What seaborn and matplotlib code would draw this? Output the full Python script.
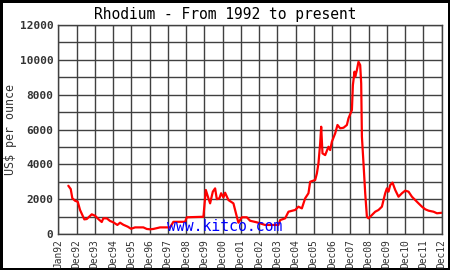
import matplotlib
matplotlib.use("Agg")
import matplotlib.pyplot as plt
import seaborn as sns
import pandas as pd

# --- data (x: position in years from Jan92, y: US$ per ounce) ---
t_years = [0.548, 0.680, 0.768, 0.916, 1.064, 1.190, 1.425, 1.557, 1.831, 2.012,
           2.193, 2.379, 2.467, 2.654, 2.834, 3.015, 3.235, 3.383, 3.564, 3.805,
           3.986, 4.205, 4.660, 4.846, 5.027, 5.208, 5.576, 6.124, 6.305, 6.946,
           7.039, 7.950, 8.081, 8.224, 8.317, 8.465, 8.591, 8.684, 8.827, 8.920,
           9.046, 9.139, 9.320, 9.594, 9.781, 9.868, 10.055, 10.329, 10.510, 10.877,
           11.058, 11.332, 12.061, 12.155, 12.429, 12.610, 12.977, 13.158, 13.344, 13.525,
           13.706, 13.799, 14.073, 14.167, 14.254, 14.348, 14.403, 14.474, 14.622, 14.803,
           14.896, 14.989, 15.170, 15.296, 15.444, 15.625, 15.811, 15.899, 16.086, 16.140,
           16.228, 16.266, 16.359, 16.447, 16.540, 16.595, 16.634, 16.721, 16.815, 16.908,
           16.996, 17.182, 17.363, 17.544, 17.730, 17.911, 18.004, 18.092, 18.185, 18.311,
           18.459, 18.640, 18.827, 19.008, 19.189, 19.375, 19.556, 19.737, 19.923, 20.104,
           20.285, 20.559, 20.746, 21.020]
price = [2770, 2580, 2050, 1910, 1850, 1380, 840, 860, 1130, 1050,
         860, 690, 900, 900, 750, 670, 520, 650, 530, 420,
         300, 380, 380, 290, 270, 290, 380, 380, 700, 700,
         960, 990, 2530, 2050, 1760, 2430, 2620, 2000, 2050, 2340,
         2100, 2370, 1950, 1760, 990, 650, 960, 960, 760, 670,
         610, 520, 520, 800, 900, 1280, 1380, 1570, 1470, 2050,
         2340, 3000, 3100, 3480, 4060, 5210, 6160, 4630, 4530, 5010,
         4820, 5300, 5780, 6260, 6070, 6100, 6260, 6640, 7120, 8550,
         9320, 9030, 9410, 9890, 9700, 8650, 5590, 4060, 2340, 990,
         900, 1090, 1280, 1380, 1570, 2340, 2620, 2430, 2810, 2950,
         2530, 2140, 2340, 2490, 2430, 2140, 1950, 1760, 1570, 1420,
         1340, 1280, 1190, 1220]
tick_labels = ["Jan92"] + ["Dec%02d" % (y % 100) for y in range(92, 113)]
y_ticks = [0, 2000, 4000, 6000, 8000, 10000, 12000]

df = pd.DataFrame({"x": [1992 + t for t in t_years], "price": price})

sns.set_style("white")
mono = ["DejaVu Sans Mono"]
plt.rcParams["font.family"] = mono

fig = plt.figure(figsize=(4.5, 2.7), dpi=100)
fig.patch.set_facecolor("white")
fig.patch.set_edgecolor("black")
fig.patch.set_linewidth(2.5)
ax = fig.add_axes([0.1296, 0.1333, 0.8517, 0.7741])

grid_c = "#404040"
ax.set_xlim(1992, 1992 + len(tick_labels) - 1)
ax.set_ylim(0, 12000)
ax.set_xticks([1992 + i for i in range(len(tick_labels))])
ax.set_xticklabels(tick_labels, rotation=90, fontsize=6.9, color="#333333")
ax.set_yticks(list(range(0, 12001, 1000)))
ax.set_yticklabels([str(v) if v in y_ticks else "" for v in range(0, 12001, 1000)],
                   fontsize=8, color="#333333", fontweight="bold")
ax.grid(True, color=grid_c, linewidth=1.0)
ax.set_axisbelow(True)
for s in ax.spines.values():
    s.set_color(grid_c)
    s.set_linewidth(1.0)
ax.tick_params(axis="both", length=2.5, width=0.8, color=grid_c, pad=1.0)

sns.lineplot(data=df, x="x", y="price", color="#ff0000", linewidth=1.6, ax=ax,
             sort=False, estimator=None)

ax.set_xlabel("")
ax.set_ylabel("US$ per ounce", fontsize=8.4, color="#333333")
ax.yaxis.set_label_coords(-0.108, 0.5)
fig.text(0.5, 0.948, "Rhodium - From 1992 to present", ha="center", va="center",
         fontsize=10.5, color="black")
ax.text(0.284, 0.0, "www.kitco.com", transform=ax.transAxes, ha="left", va="bottom",
        fontsize=10.6, color="#0000ff")

fig.savefig("out.png", dpi=100, facecolor="white", edgecolor="black")
